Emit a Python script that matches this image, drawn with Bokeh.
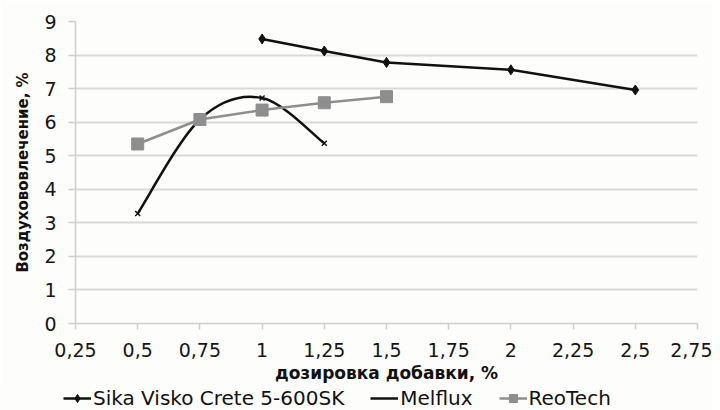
from bokeh.plotting import figure
from bokeh.models import (Range1d, FixedTicker, Legend, LegendItem, ColumnDataSource)
from bokeh.embed import file_html
from bokeh.resources import INLINE

# ---- data ----
sika_x = [1.0, 1.25, 1.5, 2.0, 2.5]
sika_y = [8.48, 8.12, 7.78, 7.56, 6.96]

melflux_x = [0.5, 0.75, 1.0, 1.25]
melflux_y = [3.28, 6.08, 6.72, 5.37]

reotech_x = [0.5, 0.75, 1.0, 1.25, 1.5]
reotech_y = [5.35, 6.08, 6.36, 6.58, 6.76]

x_ticks = [0.25, 0.5, 0.75, 1.0, 1.25, 1.5, 1.75, 2.0, 2.25, 2.5, 2.75]
x_tick_labels = ["0,25", "0,5", "0,75", "1", "1,25", "1,5", "1,75", "2", "2,25", "2,5", "2,75"]
y_ticks = [0, 1, 2, 3, 4, 5, 6, 7, 8, 9]

series_names = ["Sika Visko Crete 5-600SK", "Melflux", "ReoTech"]
x_title = "дозировка добавки, %"
y_title = "Воздухововлечение, %"

FONT = "DejaVu Sans"
BG = "#fdfdfb"
BLACK = "#111111"
GRAY = "#8e8e8e"


def melflux_bezier_source():
    # Catmull-Rom style smoothing of the Melflux points -> cubic Bezier control points
    n = len(melflux_x)
    d = {k: [] for k in ("x0", "y0", "x1", "y1", "cx0", "cy0", "cx1", "cy1")}
    for i in range(n - 1):
        pa = max(i - 1, 0)
        pb = min(i + 2, n - 1)
        d["x0"].append(melflux_x[i]); d["y0"].append(melflux_y[i])
        d["x1"].append(melflux_x[i + 1]); d["y1"].append(melflux_y[i + 1])
        d["cx0"].append(melflux_x[i] + (melflux_x[i + 1] - melflux_x[pa]) / 6)
        d["cy0"].append(melflux_y[i] + (melflux_y[i + 1] - melflux_y[pa]) / 6)
        d["cx1"].append(melflux_x[i + 1] - (melflux_x[pb] - melflux_x[i]) / 6)
        d["cy1"].append(melflux_y[i + 1] - (melflux_y[pb] - melflux_y[i]) / 6)
    return ColumnDataSource(d)


def draw_series(fig):
    sl = fig.line(sika_x, sika_y, line_color=BLACK, line_width=2.5)
    sp = fig.scatter(sika_x, sika_y, marker="diamond", size=10, fill_color=BLACK, line_color=BLACK)
    mc = fig.bezier(x0="x0", y0="y0", x1="x1", y1="y1", cx0="cx0", cy0="cy0",
                    cx1="cx1", cy1="cy1", source=melflux_bezier_source(),
                    line_color=BLACK, line_width=2.5)
    mp = fig.scatter(melflux_x, melflux_y, marker="x", size=7, line_color=BLACK, line_width=1.5)
    rl = fig.line(reotech_x, reotech_y, line_color=GRAY, line_width=2.5)
    rp = fig.scatter(reotech_x, reotech_y, marker="square", size=12, fill_color=GRAY, line_color=GRAY)
    return (sl, sp), (mc, mp), (rl, rp)


p = figure(width=712, height=386, output_backend="svg", toolbar_location=None,
           x_range=Range1d(0.25, 2.75), y_range=Range1d(0, 9),
           min_border_left=75, min_border_right=15, min_border_top=21, min_border_bottom=63,
           background_fill_color=BG, border_fill_color=BG, outline_line_color=None)

p.xgrid.grid_line_color = None
p.ygrid.grid_line_color = "#d9d9d9"
p.ygrid.grid_line_width = 2
p.ygrid.ticker = FixedTicker(ticks=y_ticks)

p.xaxis.ticker = FixedTicker(ticks=x_ticks)
p.xaxis.major_label_overrides = {t: l for t, l in zip(x_ticks, x_tick_labels)}
p.yaxis.ticker = FixedTicker(ticks=y_ticks)
for ax in (p.xaxis, p.yaxis):
    ax.axis_line_color = "#cfcfcf"
    ax.axis_line_width = 1.5
    ax.major_tick_line_color = "#cfcfcf"
    ax.major_tick_line_width = 1.5
    ax.major_tick_in = 0
    ax.minor_tick_line_color = None
    ax.major_label_text_font = FONT
    ax.major_label_text_font_size = "19px"
    ax.major_label_text_color = "#151515"
    ax.axis_label_text_font = FONT
    ax.axis_label_text_font_style = "bold"
    ax.axis_label_text_color = BLACK
p.xaxis.major_tick_out = 6
p.yaxis.major_tick_out = 7
p.xaxis.major_label_standoff = 13
p.yaxis.major_label_standoff = 12
p.xaxis.axis_label = x_title
p.yaxis.axis_label = y_title
p.xaxis.axis_label_text_font_size = "17px"
p.yaxis.axis_label_text_font_size = "15px"
p.xaxis.axis_label_standoff = 3
p.yaxis.axis_label_standoff = 9

sika_r, mel_r, reo_r = draw_series(p)

# legend strip below the chart (its own renderers lie outside its visible range)
lg = figure(width=712, height=24, output_backend="svg", toolbar_location=None,
            x_range=Range1d(100, 101), y_range=Range1d(100, 101),
            x_axis_location=None, y_axis_location=None, min_border=0,
            background_fill_color=BG, border_fill_color=BG, outline_line_color=None)
lg.grid.grid_line_color = None
lsika, lmel, lreo = draw_series(lg)

legend = Legend(items=[
    LegendItem(label=series_names[0], renderers=list(lsika)),
    LegendItem(label=series_names[1], renderers=[lmel[0]]),
    LegendItem(label=series_names[2], renderers=list(lreo)),
], orientation="horizontal", location=(63, 0), border_line_alpha=0,
    background_fill_alpha=0, label_text_font=FONT, label_text_font_size="20px",
    label_text_color=BLACK, glyph_width=28, glyph_height=20, spacing=26,
    padding=0, margin=0, label_standoff=2, label_height=22)
lg.add_layout(legend, "center")

open("out.html", "w").write(file_html([p, lg], INLINE))
